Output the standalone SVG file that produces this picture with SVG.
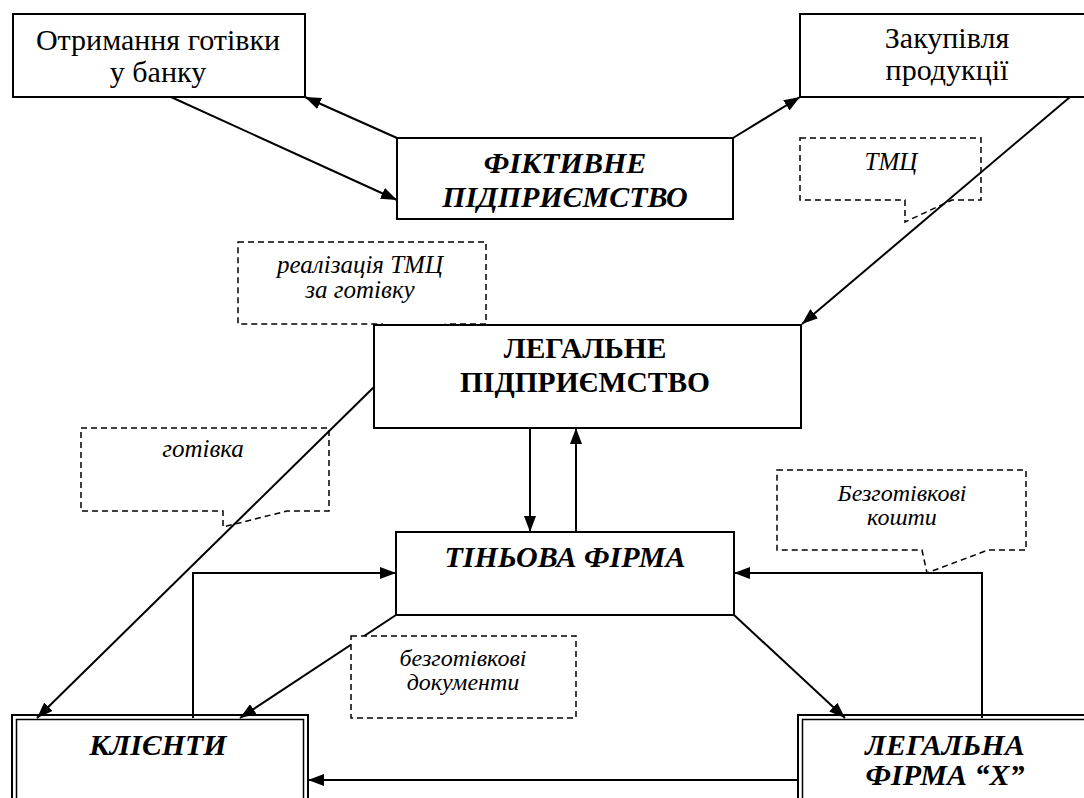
<svg xmlns="http://www.w3.org/2000/svg" width="1084" height="798" viewBox="0 0 1084 798">
<style>
.box{fill:#fff;stroke:#000;stroke-width:2}
.inner{fill:none;stroke:#000;stroke-width:1.5}
.call{fill:#fff;stroke:#000;stroke-width:1.5;stroke-dasharray:6 4}
.con{fill:none;stroke:#000;stroke-width:2}
text{font-family:'Liberation Serif','Times New Roman',serif;fill:#000;text-anchor:middle}
.n{font-size:30px}
.bi{font-size:30px;font-weight:bold;font-style:italic}
.b{font-size:29.5px;font-weight:bold}
.i{font-size:25px;font-style:italic}
.i2{font-size:24px;font-style:italic}
</style>
<defs>
<marker id="ar" viewBox="0 0 16 12" refX="16" refY="6" markerWidth="16" markerHeight="12" markerUnits="userSpaceOnUse" orient="auto">
<path d="M0,0 L16,6 L0,12 Z" fill="#000"/>
</marker>
</defs>
<rect width="1084" height="798" fill="#fff"/>

<g id="callout-tmc">
<path class="call" d="M800,138 H981 V200 H952 L905,222 L905,200 H800 Z"/>
<text class="i" x="891" y="170">ТМЦ</text>
</g>
<g id="callout-realizatsiia">
<path class="call" d="M238,242 H486 V324 H447 L380,341 L382,324 H238 Z"/>
<text class="i" x="360" y="273">реалізація ТМЦ</text>
<text class="i" x="360" y="298">за готівку</text>
</g>
<g id="callout-gotivka">
<path class="call" d="M81,428 H329 V511 H287 L223,527 L223,511 H81 Z"/>
<text class="i" x="203" y="457">готівка</text>
</g>
<g id="callout-koshty">
<path class="call" d="M777,470 H1026 V550 H988 L927,573 L922,550 H777 Z"/>
<text class="i2" x="902" y="501">Безготівкові</text>
<text class="i2" x="902" y="525">кошти</text>
</g>

<g id="node-bank">
<rect class="box" x="13" y="14" width="292" height="83"/>
<text class="n" x="158" y="50">Отримання готівки</text>
<text class="n" x="158" y="82">у банку</text>
</g>
<g id="node-zakupivlia">
<rect class="box" x="800" y="14" width="300" height="83"/>
<text class="n" x="947" y="48">Закупівля</text>
<text class="n" x="947" y="80">продукції</text>
</g>
<g id="node-fiktyvne">
<rect class="box" x="397" y="138" width="336" height="81"/>
<text class="bi" x="565" y="173">ФІКТИВНЕ</text>
<text class="bi" x="565" y="207">ПІДПРИЄМСТВО</text>
</g>
<g id="node-legalne">
<rect class="box" x="374" y="325" width="427" height="103"/>
<text class="b" x="585" y="358">ЛЕГАЛЬНЕ</text>
<text class="b" x="585" y="392">ПІДПРИЄМСТВО</text>
</g>
<g id="node-tinova">
<rect class="box" x="396" y="532" width="338" height="83"/>
<text class="bi" x="565" y="567">ТІНЬОВА ФІРМА</text>
</g>
<g id="node-klienty">
<rect class="box" x="12" y="715" width="296" height="100"/>
<rect class="inner" x="16.5" y="719.5" width="287" height="100"/>
<text class="bi" x="158" y="755">КЛІЄНТИ</text>
</g>
<g id="node-legalna-x">
<rect class="box" x="798" y="715" width="300" height="100"/>
<rect class="inner" x="802.5" y="719.5" width="300" height="100"/>
<text class="bi" x="945" y="755">ЛЕГАЛЬНА</text>
<text class="bi" x="945" y="785">ФІРМА “X”</text>
</g>

<g id="connectors">
<line class="con" x1="397" y1="138" x2="305" y2="97" marker-end="url(#ar)"/>
<line class="con" x1="171" y1="97" x2="397" y2="200" marker-end="url(#ar)"/>
<line class="con" x1="733" y1="138" x2="800" y2="97" marker-end="url(#ar)"/>
<line class="con" x1="1070" y1="97" x2="802" y2="324" marker-end="url(#ar)"/>
<line class="con" x1="374" y1="387" x2="37" y2="718" marker-end="url(#ar)"/>
<line class="con" x1="530" y1="428" x2="530" y2="532" marker-end="url(#ar)"/>
<line class="con" x1="576" y1="532" x2="576" y2="428" marker-end="url(#ar)"/>
<polyline class="con" points="193,718 193,573 396,573" marker-end="url(#ar)"/>
<polyline class="con" points="982,718 982,573 734,573" marker-end="url(#ar)"/>
<line class="con" x1="396" y1="615" x2="240" y2="718" marker-end="url(#ar)"/>
<line class="con" x1="734" y1="615" x2="845" y2="718" marker-end="url(#ar)"/>
<line class="con" x1="798" y1="780" x2="308" y2="780" marker-end="url(#ar)"/>
</g>

<g id="callout-dokumenty">
<rect class="call" x="351" y="636" width="225" height="82"/>
<text class="i2" x="463" y="666">безготівкові</text>
<text class="i2" x="463" y="690">документи</text>
</g>
</svg>
